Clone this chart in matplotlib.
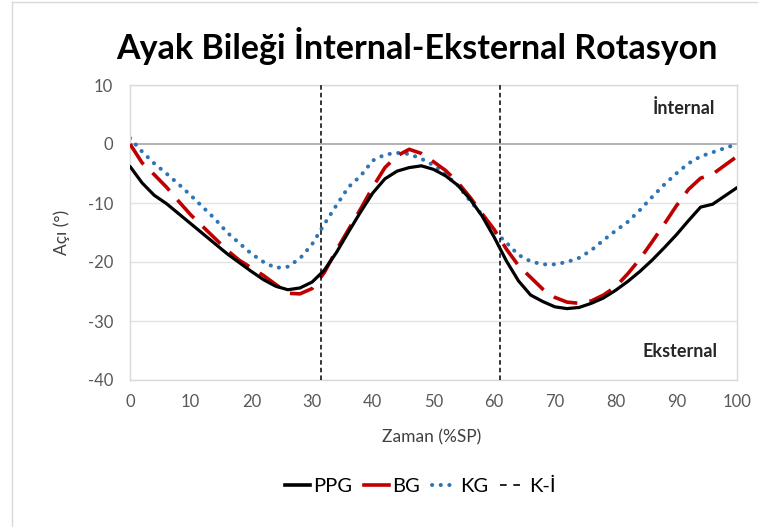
import matplotlib
matplotlib.use('Agg')
import matplotlib.pyplot as plt
from matplotlib.lines import Line2D

plt.rcParams['font.family'] = ['Lato', 'DejaVu Sans']
plt.rcParams['axes.unicode_minus'] = False

# data
x = [0, 2, 4, 6, 8, 10, 12, 14, 16, 18, 20, 22, 24, 26, 28, 30, 32, 34, 36, 38, 40,
     42, 44, 46, 48, 50, 52, 54, 56, 58, 60, 62, 64, 66, 68, 70, 72, 74, 76, 78, 80,
     82, 84, 86, 88, 90, 92, 94, 96, 98, 100]
ppg = [-3.8, -6.6, -8.7, -10.1, -11.8, -13.5, -15.2, -16.9, -18.6, -20.1, -21.6, -23.0, -24.1, -24.7, -24.4, -23.4, -21.4, -18.4, -14.9, -11.5, -8.3,
       -5.9, -4.6, -4.0, -3.7, -4.3, -5.4, -7.0, -9.3, -12.2, -15.8, -19.8, -23.2, -25.6, -26.7, -27.6, -27.9, -27.7, -27.0, -26.1, -24.8,
       -23.3, -21.6, -19.7, -17.6, -15.4, -13.0, -10.7, -10.2, -8.8, -7.4]
bg = [0.0, -3.2, -5.2, -7.3, -9.7, -12.0, -14.0, -16.0, -18.0, -19.7, -21.0, -22.3, -23.8, -25.3, -25.4, -24.5, -21.8, -18.0, -14.5, -11.0, -7.3,
      -4.0, -2.0, -0.9, -1.6, -3.0, -4.5, -6.5, -9.0, -11.8, -14.5, -17.8, -20.6, -22.6, -24.6, -26.0, -26.8, -27.0, -26.6, -25.6, -24.2,
      -22.0, -19.5, -16.6, -13.6, -10.5, -7.7, -5.8, -5.1, -3.6, -2.1]
kg = [1.0, -1.3, -3.3, -5.0, -6.8, -8.7, -10.7, -12.7, -15.0, -16.8, -18.6, -20.0, -21.0, -20.8, -19.4, -17.0, -13.6, -10.4, -7.3, -5.4, -2.8,
      -1.8, -1.5, -1.7, -2.5, -3.6, -5.2, -7.0, -9.6, -12.0, -14.8, -16.7, -18.8, -19.9, -20.4, -20.4, -20.0, -19.3, -18.0, -16.3, -14.7,
      -13.2, -11.2, -9.0, -6.9, -5.0, -3.3, -2.1, -1.4, -0.7, 0.0]
ki = [31.5, 61]  # K-İ vertical markers
xticks = list(range(0, 101, 10))
yticks = list(range(-40, 11, 10))

fig = plt.figure(figsize=(7.58, 5.27), dpi=100)
ax = fig.add_axes([130/758, 1 - 380/527, 607/758, 295/527])

grid_c = '#e3e3e3'
for yt in yticks:
    if yt != 0:
        ax.axhline(yt, color=grid_c, lw=1, zorder=0)
ax.axhline(0, color='#a6a6a6', lw=1.2, zorder=1)

ax.plot(x, ppg, color='black', lw=2.3, zorder=4, solid_capstyle='round',
        solid_joinstyle='round')
ax.plot(x, bg, color='#c00000', lw=2.6, dashes=(6.8, 3.4), zorder=3)
ax.plot(x, kg, color='#2e75b6', lw=2.9, linestyle=(0, (0.05, 2.1)),
        dash_capstyle='round', zorder=2)
for v in ki:
    ax.axvline(v, color='black', lw=1.1, dashes=(3, 2), zorder=5)

ax.set_xlim(0, 100)
ax.set_ylim(-40, 10)
ax.set_xticks(xticks)
ax.set_yticks(yticks)
ax.tick_params(length=0, labelsize=12, labelcolor='#595959', pad=10)
ax.tick_params(axis='y', pad=12)
for s in ax.spines.values():
    s.set_color('#d9d9d9')
    s.set_linewidth(1)

ax.text(0.963, 0.922, 'İnternal', transform=ax.transAxes, ha='right', va='center',
        fontsize=13, fontweight='bold', color='#262626')
ax.text(0.968, 0.095, 'Eksternal', transform=ax.transAxes, ha='right', va='center',
        fontsize=13, fontweight='bold', color='#262626')

fig.text(432/758, 1 - 437/527, 'Zaman (%SP)', ha='center', va='center',
         fontsize=12.5, color='#404040')
fig.text(62/758, 1 - 232/527, 'Açı (°)', ha='center', va='center', rotation=90,
         fontsize=12.5, color='#404040')
fig.text(417/758, 1 - 46/527, 'Ayak Bileği İnternal-Eksternal Rotasyon', ha='center',
         va='center', fontsize=24.5, fontweight='bold', color='black')

handles = [Line2D([], [], color='black', lw=2.6, linestyle='-'),
           Line2D([], [], color='#c00000', lw=2.6, linestyle='-'),
           Line2D([], [], color='#2e75b6', lw=2.9, linestyle=(0, (0.05, 2.1)),
                  dash_capstyle='round'),
           Line2D([], [], color='black', lw=1.2, linestyle=(0, (4, 4)))]
fig.legend(handles, ['PPG', 'BG', 'KG', 'K-İ'], loc='center', ncol=4,
           bbox_to_anchor=(420/758, 1 - 486/527), frameon=False, fontsize=14.5,
           handlelength=1.25, handletextpad=0.15, columnspacing=0.6)

# light frame of the chart area
fig.add_artist(Line2D([12/758, 12/758], [0, 1 - 2/527], transform=fig.transFigure,
                      color='#d9d9d9', lw=1))
fig.add_artist(Line2D([12/758, 1], [1 - 2/527, 1 - 2/527], transform=fig.transFigure,
                      color='#d9d9d9', lw=1))

plt.savefig('out.png', dpi=100)
